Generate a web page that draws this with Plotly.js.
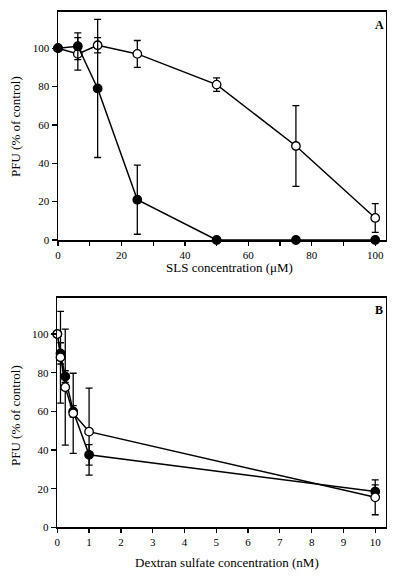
<!DOCTYPE html>
<html>
<head>
<meta charset="utf-8">
<script src="https://cdn.plot.ly/plotly-3.0.1.min.js"></script>
<style>html,body{margin:0;padding:0;background:#fff;}#chart{width:400px;height:577px;}</style>
</head>
<body>
<div id="chart"></div>
<script>
// Panel A: SLS
const slsConc = [0, 6.25, 12.5, 25, 50, 75, 100];
const slsFilled = [100, 101, 79, 21, 0, 0, 0];
const slsFilledErr = [0, 7, 36, 18, 0, 0, 0];
const slsOpen = [100, 97, 101.5, 97, 81, 49, 11.5];
const slsOpenErr = [0, 8.5, 4, 7, 3.5, 21, 7.5];

// Panel B: Dextran sulfate
const dexConc = [0, 0.1, 0.25, 0.5, 1, 10];
const dexFilled = [100, 90, 78, 60, 37.5, 18.5];
const dexFilledErr = [0, 5.5, 3, 3, 5.3, 3.4];
const dexOpen = [100, 88, 72.5, 59, 49.5, 15.5];
const dexOpenErr = [0, 23.7, 30, 20.7, 22.5, 9];

// Text
const titleA_x = 'SLS concentration (μM)';
const titleB_x = 'Dextran sulfate concentration (nM)';
const titleY = 'PFU (% of control)';

const W = 400, H = 577;
const FONT = "Liberation Serif, Times New Roman, serif";

function series(x, y, err, filled, xa, ya) {
  return {
    x: x, y: y, xaxis: xa, yaxis: ya, type: 'scatter', mode: 'lines+markers',
    cliponaxis: false,
    line: {color: '#000', width: 1.5},
    marker: {size: 8.5, color: filled ? '#000' : '#fff', line: {color: '#000', width: 1.3}},
    error_y: {type: 'data', array: err, visible: true, color: '#000', thickness: 1.3, width: 3.5},
    showlegend: false, hoverinfo: 'skip'
  };
}

const data = [
  series(slsConc, slsOpen, slsOpenErr, false, 'x', 'y'),
  series(slsConc, slsFilled, slsFilledErr, true, 'x', 'y'),
  series(dexConc, dexFilled, dexFilledErr, true, 'x2', 'y2'),
  series(dexConc, dexOpen, dexOpenErr, false, 'x2', 'y2')
];

function px(v) { return v / W; }
function py(v) { return (H - v) / H; }

const axBase = {
  showline: true, mirror: true, linecolor: '#000', linewidth: 1.5,
  ticks: 'outside', ticklen: 5, tickwidth: 1.3, tickcolor: '#000',
  showgrid: false, zeroline: false, automargin: false,
  tickfont: {family: FONT, size: 11, color: '#000'}
};

const tFont = {family: FONT, size: 13, color: '#000'};

function ann(text, x, y, angle, font) {
  return {text: text, xref: 'paper', yref: 'paper', x: px(x), y: py(y), showarrow: false,
          textangle: angle || 0, font: font, xanchor: 'center', yanchor: 'middle'};
}

const layout = {
  width: W, height: H,
  margin: {l: 0, r: 0, t: 0, b: 0},
  paper_bgcolor: '#fff', plot_bgcolor: '#fff',
  font: {family: FONT, color: '#000'},
  xaxis: Object.assign({}, axBase, {
    domain: [px(58), px(385.7)], range: [0, 103.3], dtick: 20, tick0: 0, ticklen: 4,
    minor: {dtick: 10, tick0: 0, ticks: 'outside', ticklen: 4, tickwidth: 1.3, tickcolor: '#000'},
    anchor: 'y'
  }),
  yaxis: Object.assign({}, axBase, {
    domain: [py(240), py(11.7)], range: [0, 119], dtick: 20, tick0: 0, anchor: 'x'
  }),
  xaxis2: Object.assign({}, axBase, {
    domain: [px(57.3), px(385.7)], range: [0, 10.33], dtick: 1, tick0: 0, ticklen: 4, anchor: 'y2'
  }),
  yaxis2: Object.assign({}, axBase, {
    domain: [py(527.3), py(297.7)], range: [0, 118.8], dtick: 20, tick0: 0, anchor: 'x2'
  }),
  annotations: [
    ann(titleA_x, 229.5, 267, 0, tFont),
    ann(titleY, 15, 127, -90, tFont),
    ann(titleB_x, 227, 562, 0, tFont),
    ann(titleY, 15, 416, -90, tFont),
    ann('<b>A</b>', 379, 25, 0, {family: FONT, size: 12, color: '#000'}),
    ann('<b>B</b>', 379, 309.5, 0, {family: FONT, size: 12, color: '#000'})
  ]
};

Plotly.newPlot('chart', data, layout, {staticPlot: true, displayModeBar: false});
</script>
</body>
</html>
